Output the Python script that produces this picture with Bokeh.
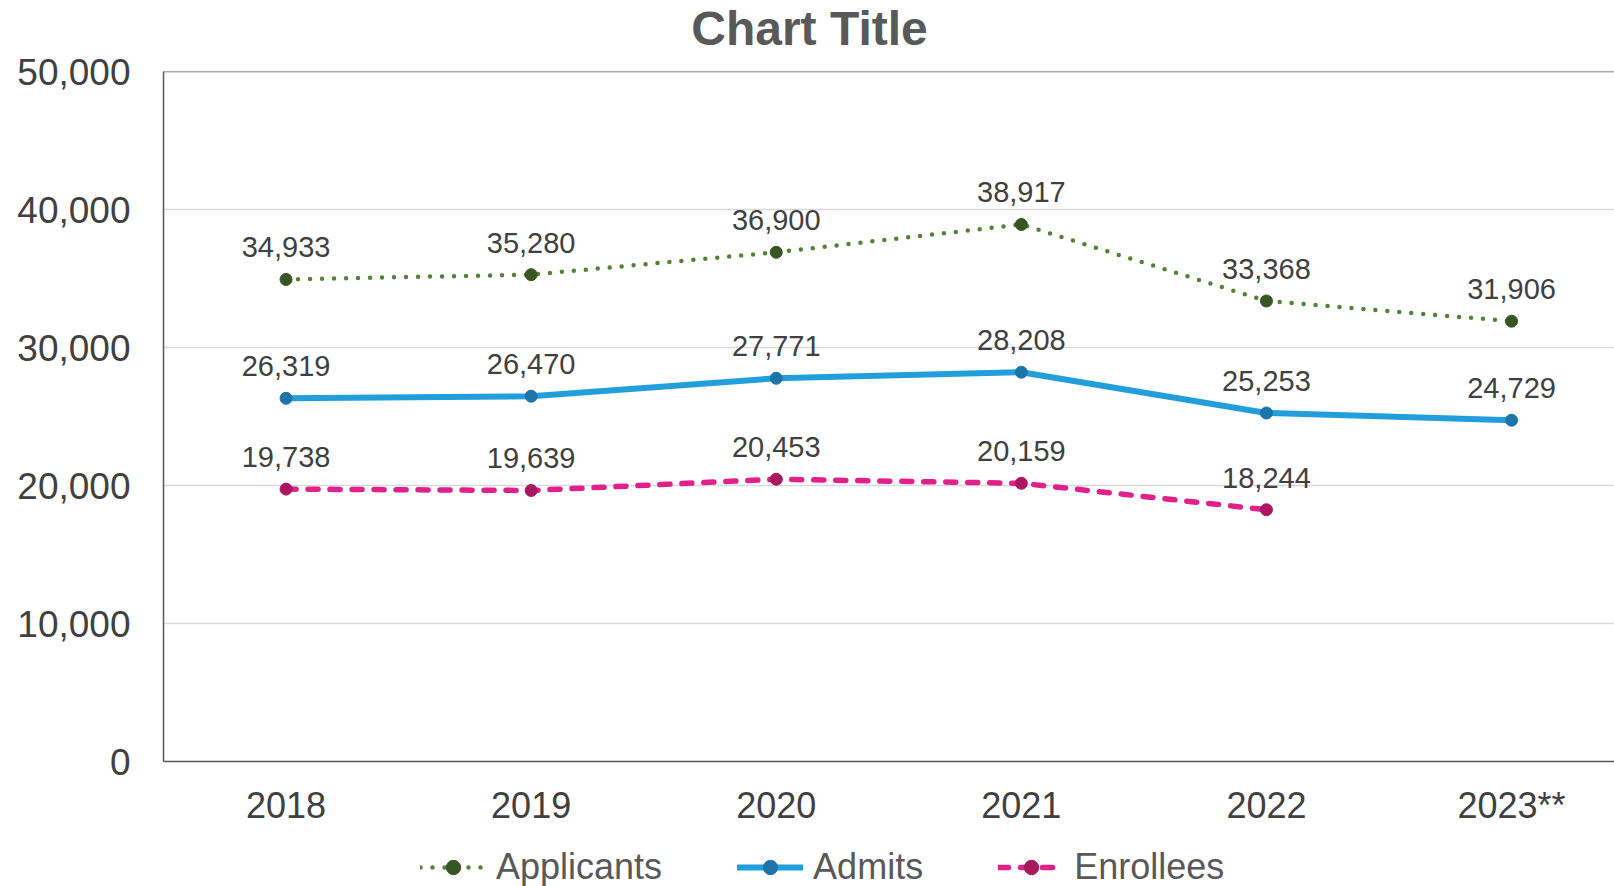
from bokeh.plotting import figure
from bokeh.layouts import column
from bokeh.models import (ColumnDataSource, LabelSet, Label, Legend, LegendItem, Span,
                          FixedTicker, NumeralTickFormatter, Range1d)
from bokeh.core.properties import value
from bokeh.embed import file_html
from bokeh.resources import INLINE

categories = ["2018", "2019", "2020", "2021", "2022", "2023**"]
applicants = [34933, 35280, 36900, 38917, 33368, 31906]
admits = [26319, 26470, 27771, 28208, 25253, 24729]
enrollees = [19738, 19639, 20453, 20159, 18244]
y_ticks = [0, 10000, 20000, 30000, 40000, 50000]
title_text = "Chart Title"

FONT = "Liberation Sans"


def strip(height):
    f = figure(width=1614, height=height, output_backend="svg", toolbar_location=None,
               x_axis_type=None, y_axis_type=None, x_range=Range1d(0, 1),
               y_range=Range1d(0, 1), min_border_left=0, min_border_right=0,
               min_border_top=0, min_border_bottom=0)
    f.outline_line_color = None
    f.xgrid.grid_line_color = None
    f.ygrid.grid_line_color = None
    f.background_fill_color = "white"
    f.border_fill_color = "white"
    return f


# title strip
tf = strip(49)
tf.add_layout(Label(x=646, y=21, x_units="screen", y_units="screen", text=title_text,
                    text_align="center", text_baseline="middle", text_font=FONT,
                    text_font_size="48px", text_font_style="bold", text_color="#595959"))

p = figure(width=1614, height=791, output_backend="svg", toolbar_location=None,
           x_range=Range1d(-0.5, 5.42), y_range=Range1d(0, 50000),
           min_border_left=163, min_border_right=0, min_border_top=22,
           min_border_bottom=79)
p.outline_line_color = None
p.background_fill_color = "white"
p.border_fill_color = "white"

# axes
p.xaxis.ticker = FixedTicker(ticks=list(range(len(categories))))
p.xaxis.major_label_overrides = {i: c for i, c in enumerate(categories)}
p.yaxis.ticker = FixedTicker(ticks=y_ticks)
p.yaxis.formatter = NumeralTickFormatter(format="0,0")
for ax in (p.xaxis[0], p.yaxis[0]):
    ax.axis_line_color = "#595959"
    ax.axis_line_width = 1.5
    ax.major_tick_line_color = None
    ax.minor_tick_line_color = None
    ax.major_tick_in = 0
    ax.major_tick_out = 0
    ax.minor_tick_in = 0
    ax.minor_tick_out = 0
    ax.major_label_text_font = FONT
    ax.major_label_text_color = "#404040"
p.xaxis.major_label_text_font_size = "36px"
p.yaxis.major_label_text_font_size = "37px"
p.xaxis.major_label_standoff = 23
p.yaxis.major_label_standoff = 33

p.xgrid.grid_line_color = None
p.ygrid.grid_line_color = "#D9D9D9"
p.ygrid.grid_line_width = 1.5

p.add_layout(Span(location=50000, dimension="width", line_color="#595959", line_width=1.5))

xs = list(range(len(categories)))

series = [
    ("Applicants", applicants, "#548235", "#375623", "0 12", 4.5),
    ("Admits", admits, "#229FDA", "#1B75A8", "solid", 6),
    ("Enrollees", enrollees, "#E0218A", "#A8185E", "10 12", 5.5),
]

# legend strip under the chart
lf = strip(46)

items = []
for name, vals, lc, mc, dash, lw in series:
    x = xs[:len(vals)]
    src = ColumnDataSource(dict(x=x, y=vals, t=[f"{v:,}" for v in vals]))
    line_kw = dict(line_color=lc, line_width=lw, line_dash=dash,
                   line_cap="round", line_join="round")
    mark_kw = dict(size=12, fill_color=mc, line_color=mc)
    p.line("x", "y", source=src, **line_kw)
    p.scatter("x", "y", source=src, **mark_kw)
    labels = LabelSet(x="x", y="y", text="t", source=src, text_align="center",
                      text_baseline="middle", y_offset=32, text_font=value(FONT),
                      text_font_size=value("29px"), text_color=value("#404040"))
    p.add_layout(labels)
    # legend swatches: same styles, data lies outside this strip's range
    lln = lf.line("x", "y", source=src, **line_kw)
    lsc = lf.scatter("x", "y", source=src, **mark_kw)
    items.append(LegendItem(label=name, renderers=[lln, lsc]))

legend = Legend(items=items, orientation="horizontal", location=(257, -2),
                label_text_font=FONT, label_text_font_size="36px",
                label_text_color="#595959", glyph_width=66, glyph_height=36,
                label_standoff=10, spacing=75, padding=0, margin=0,
                border_line_color=None, background_fill_alpha=0)
lf.add_layout(legend)

layout = column(tf, p, lf, spacing=0)
open("out.html", "w").write(file_html(layout, INLINE))
